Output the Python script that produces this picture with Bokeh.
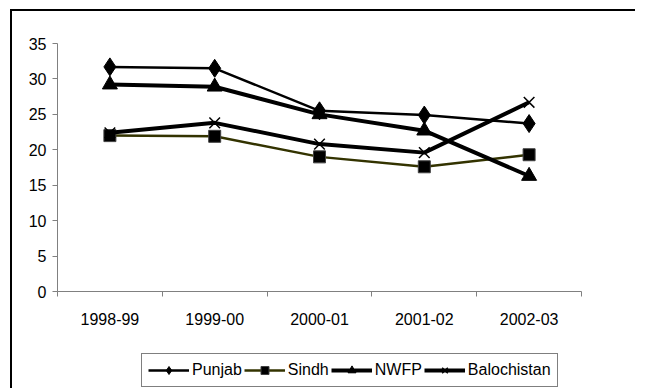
from bokeh.plotting import figure
from bokeh.layouts import column
from bokeh.models import (FixedTicker, Legend, LegendItem, ColumnDataSource)
from bokeh.embed import file_html
from bokeh.resources import INLINE

years = ["1998-99", "1999-00", "2000-01", "2001-02", "2002-03"]
punjab = [31.7, 31.5, 25.5, 24.9, 23.7]
sindh = [22.0, 21.9, 19.0, 17.6, 19.3]
nwfp = [29.2, 28.9, 25.0, 22.7, 16.3]
balochistan = [22.4, 23.8, 20.8, 19.6, 26.7]
y_ticks = [0, 5, 10, 15, 20, 25, 30, 35]
series_names = ["Punjab", "Sindh", "NWFP", "Balochistan"]

FONT = "Liberation Sans"
W = 625

xpos = [i + 0.5 for i in range(len(years))]

p = figure(output_backend="svg", toolbar_location=None,
           width=W, height=334,
           min_border_left=45, min_border_right=W - 45 - 524, min_border_top=32, min_border_bottom=54,
           x_range=(0, len(years)), y_range=(0, 35))
p.outline_line_color = None
p.xgrid.visible = False
p.ygrid.visible = False
p.background_fill_color = "white"
p.border_fill_color = "white"

# axes
p.yaxis.ticker = FixedTicker(ticks=y_ticks)
p.yaxis.axis_line_color = "#808080"
p.yaxis.major_tick_line_color = "#808080"
p.yaxis.major_tick_out = 5
p.yaxis.major_tick_in = 0
p.yaxis.minor_tick_line_color = None
p.yaxis.major_label_standoff = 6
p.yaxis.major_label_text_font = FONT
p.yaxis.major_label_text_font_size = "16px"
p.yaxis.major_label_text_color = "black"

p.xaxis.ticker = FixedTicker(ticks=xpos, minor_ticks=list(range(len(years) + 1)))
p.xaxis.major_label_overrides = {x: y for x, y in zip(xpos, years)}
p.xaxis.axis_line_color = "#808080"
p.xaxis.major_tick_line_color = None
p.xaxis.major_tick_out = 0
p.xaxis.major_tick_in = 0
p.xaxis.minor_tick_line_color = "#808080"
p.xaxis.minor_tick_out = 5
p.xaxis.minor_tick_in = 0
p.xaxis.major_label_standoff = 16
p.xaxis.major_label_text_font = FONT
p.xaxis.major_label_text_font_size = "16px"
p.xaxis.major_label_text_color = "black"

src = ColumnDataSource(dict(x=xpos, punjab=punjab, sindh=sindh, nwfp=nwfp, bal=balochistan))

styles = [
    dict(line=dict(line_color="black", line_width=2.5),
         mark=dict(marker="diamond", size=18, fill_color="black", line_color="black")),
    dict(line=dict(line_color="#333300", line_width=2.5),
         mark=dict(marker="square", size=12, fill_color="black", line_color="#404040")),
    dict(line=dict(line_color="black", line_width=4),
         mark=dict(marker="triangle", size=15, fill_color="black", line_color="black")),
    dict(line=dict(line_color="black", line_width=4),
         mark=dict(marker="x", size=15, line_color="black", line_width=1.5)),
]
legend_mark_sizes = [11, 8, 10, 10]
cols = ["punjab", "sindh", "nwfp", "bal"]
for c, st in zip(cols, styles):
    p.line("x", c, source=src, **st["line"])
    p.scatter("x", c, source=src, **st["mark"])

# legend strip (separate figure so the legend is not clipped)
q = figure(output_backend="svg", toolbar_location=None, width=W, height=45,
           min_border=0, x_axis_location=None, y_axis_location=None,
           x_range=(0, 1), y_range=(0, 1))
q.outline_line_color = None
q.xgrid.visible = False
q.ygrid.visible = False
q.background_fill_color = "white"
q.border_fill_color = "white"
# off-screen placeholder point so that the legend can draw each glyph
placeholder = ColumnDataSource(dict(x=[-10], y=[-10]))
items = []
for name, st, ms in zip(series_names, styles, legend_mark_sizes):
    mk = dict(st["mark"])
    mk["size"] = ms
    lr = q.line("x", "y", source=placeholder, **st["line"])
    mr = q.scatter("x", "y", source=placeholder, **mk)
    items.append(LegendItem(label=name, renderers=[lr, mr]))

legend = Legend(items=items, orientation="horizontal", location=(84, 3),
                glyph_width=41, glyph_height=20, label_standoff=3, spacing=2, padding=6, margin=0,
                border_line_color="black", border_line_width=1,
                label_text_font=FONT, label_text_font_size="16px", label_text_color="black",
                background_fill_alpha=1)
q.add_layout(legend, "center")

layout = column(p, q, spacing=0,
                styles={"margin-left": "12px", "margin-top": "11px",
                        "box-shadow": "-2px -2px 0 0 black"})

open("out.html", "w").write(file_html(layout, INLINE))
